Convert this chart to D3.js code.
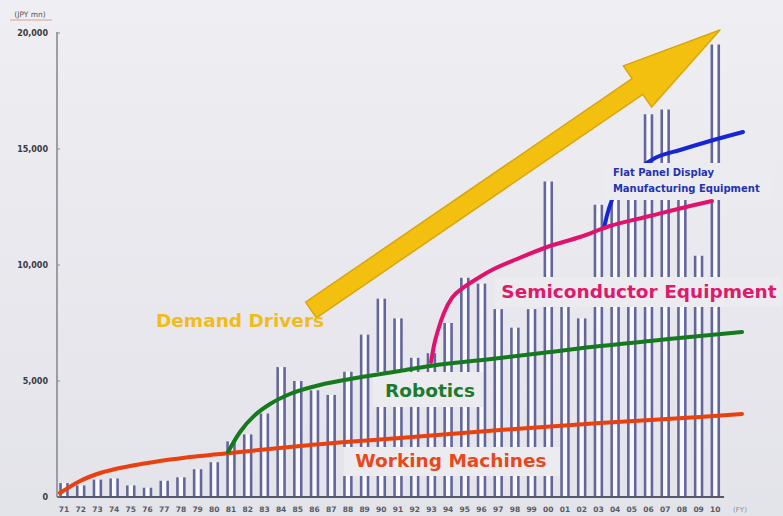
<!DOCTYPE html>
<html>
<head>
<meta charset="utf-8">
<script src="https://cdn.jsdelivr.net/npm/d3@7"></script>
<style>
  html, body { margin: 0; padding: 0; background: #e9e9ee; }
  svg { display: block; }
</style>
</head>
<body>
<svg id="chart" width="783" height="516"></svg>
<script>
// orders per fiscal year (JPY mn)
const years = [1971, 1972, 1973, 1974, 1975, 1976, 1977, 1978, 1979, 1980,
  1981, 1982, 1983, 1984, 1985, 1986, 1987, 1988, 1989, 1990,
  1991, 1992, 1993, 1994, 1995, 1996, 1997, 1998, 1999, 2000,
  2001, 2002, 2003, 2004, 2005, 2006, 2007, 2008, 2009, 2010];
const yearLabels = ["71", "72", "73", "74", "75", "76", "77", "78", "79", "80",
  "81", "82", "83", "84", "85", "86", "87", "88", "89", "90",
  "91", "92", "93", "94", "95", "96", "97", "98", "99", "00",
  "01", "02", "03", "04", "05", "06", "07", "08", "09", "10"];
const orders = [600, 500, 750, 800, 500, 400, 700, 850, 1200, 1500,
  2400, 2700, 3600, 5600, 5000, 4600, 4400, 5400, 7000, 8550,
  7700, 6000, 6200, 7500, 9450, 9200, 8100, 7300, 8100, 13600,
  8800, 7700, 12600, 13800, 14200, 16500, 16700, 13000, 10400, 19500];
const yTicks = [0, 5000, 10000, 15000, 20000];

// demand driver trend lines: [fiscal year, JPY mn]
const workingMachines = [[1970.76, 172], [1971.96, 690], [1973.16, 1034], [1974.95, 1336],
  [1976.75, 1552], [1979.14, 1767], [1980.94, 1897], [1985.13, 2198], [1991.12, 2543],
  [1997.11, 2888], [2003.10, 3190], [2009.08, 3448], [2011.60, 3578]];
const robotics = [[1980.82, 1940], [1981.54, 2802], [1982.44, 3534], [1983.34, 4009],
  [1984.53, 4440], [1986.33, 4828], [1988.13, 5086], [1991.12, 5431], [1992.92, 5647],
  [1997.11, 5991], [2000.10, 6250], [2003.10, 6509], [2006.09, 6724], [2009.08, 6940],
  [2011.60, 7112]];
const semiconductor = [[1992.98, 5819], [1993.16, 6552], [1993.40, 7198], [1993.75, 7931],
  [1994.23, 8578], [1994.89, 9009], [1995.61, 9353], [1996.51, 9741], [1998.13, 10259],
  [2000.10, 10819], [2001.90, 11207], [2003.69, 11681], [2006.09, 12112], [2008.49, 12543],
  [2009.80, 12759]];
const flatPanel = [[2003.34, 11595], [2003.52, 12155], [2003.81, 12802], [2004.59, 13578],
  [2005.49, 14181], [2006.39, 14612], [2007.89, 14957], [2009.68, 15345], [2011.66, 15733]];

// arrow from tail to tip, [fiscal year, JPY mn]
const demandArrow = [[1985.79, 8060], [2010.28, 20130]];

const width = 783;
const height = 516;

const svg = d3.select("#chart");

const defs = svg.append("defs");
const bg = defs.append("linearGradient")
  .attr("id", "bg")
  .attr("x1", 0).attr("y1", 0).attr("x2", 0).attr("y2", 1);
bg.append("stop").attr("offset", "0%").attr("stop-color", "#efeef2");
bg.append("stop").attr("offset", "100%").attr("stop-color", "#e3e3ea");

svg.append("rect")
  .attr("width", width)
  .attr("height", height)
  .attr("fill", "url(#bg)");

const x = d3
  .scaleBand()
  .domain(years)
  .range([55.65, 723.65])
  .paddingInner(0.43)
  .paddingOuter(0.215);

const xs = d3
  .scaleLinear()
  .domain([1971, 2010])
  .range([x(1971) + x.bandwidth() / 2, x(2010) + x.bandwidth() / 2]);

const y = d3.scaleLinear().domain([0, 20000]).range([497, 33]);

// bars: white body with dark edges
const bars = svg
  .append("g")
  .selectAll("g")
  .data(years)
  .enter()
  .append("g");

bars
  .append("rect")
  .attr("x", (d) => x(d))
  .attr("y", (d, i) => y(orders[i]))
  .attr("width", x.bandwidth())
  .attr("height", (d, i) => y(0) - y(orders[i]))
  .attr("fill", "#f8f8fd");

bars
  .selectAll("line")
  .data((d, i) => [
    { x: x(d) + 1.3, v: orders[i] },
    { x: x(d) + x.bandwidth() - 1.3, v: orders[i] },
  ])
  .enter()
  .append("line")
  .attr("x1", (d) => d.x)
  .attr("x2", (d) => d.x)
  .attr("y1", (d) => y(d.v))
  .attr("y2", y(0))
  .attr("stroke", "#62669a")
  .attr("stroke-width", 2.6);

const line = d3
  .line()
  .curve(d3.curveMonotoneX)
  .x((d) => xs(d[0]))
  .y((d) => y(d[1]));

// flat panel line goes under its label box
svg
  .append("path")
  .datum(flatPanel)
  .attr("d", line)
  .attr("fill", "none")
  .attr("stroke", "#1427d2")
  .attr("stroke-width", 4)
  .attr("stroke-linecap", "round");

// label boxes hiding the bars
const boxes = [
  { x0: 1989.5, x1: 1996.09, v0: 3879, v1: 5388 },
  { x0: 1987.71, x1: 2000.7, v0: 905, v1: 2155 },
  { x0: 1996.81, x1: 2013.99, v0: 8190, v1: 9483 },
  { x0: 2003.34, x1: 2013.4, v0: 12802, v1: 14397 },
];

svg
  .append("g")
  .selectAll("rect")
  .data(boxes)
  .enter()
  .append("rect")
  .attr("x", (d) => xs(d.x0))
  .attr("y", (d) => y(d.v1))
  .attr("width", (d) => xs(d.x1) - xs(d.x0))
  .attr("height", (d) => y(d.v0) - y(d.v1))
  .attr("fill", "#ececf0");

// axes
svg
  .append("line")
  .attr("x1", 57)
  .attr("x2", 57)
  .attr("y1", y(20000) - 1)
  .attr("y2", y(0))
  .attr("stroke", "#8a8a92")
  .attr("stroke-width", 1.6);

svg
  .append("line")
  .attr("x1", 57)
  .attr("x2", x(2010) + x.bandwidth() + 4)
  .attr("y1", y(0))
  .attr("y2", y(0))
  .attr("stroke", "#55596e")
  .attr("stroke-width", 2);

const yAxis = svg.append("g").attr("class", "yaxis");

yAxis
  .selectAll("line")
  .data(yTicks)
  .enter()
  .append("line")
  .attr("x1", 57)
  .attr("x2", 60)
  .attr("y1", (d) => y(d))
  .attr("y2", (d) => y(d))
  .attr("stroke", "#8a8a92")
  .attr("stroke-width", 1);

yAxis
  .selectAll("text")
  .data(yTicks)
  .enter()
  .append("text")
  .attr("x", 48)
  .attr("y", (d) => y(d) + 3)
  .attr("text-anchor", "end")
  .attr("font-family", "DejaVu Sans")
  .attr("font-size", 8)
  .attr("font-weight", "bold")
  .attr("fill", "#3a3a40")
  .text((d) => d3.format(",")(d));

svg
  .append("text")
  .attr("x", 30)
  .attr("y", 17)
  .attr("text-anchor", "middle")
  .attr("font-family", "DejaVu Sans")
  .attr("font-size", 7.5)
  .attr("fill", "#55555c")
  .text("(JPY mn)");

svg
  .append("line")
  .attr("x1", 10)
  .attr("x2", 52)
  .attr("y1", 20)
  .attr("y2", 20)
  .attr("stroke", "#e39a9a")
  .attr("stroke-width", 1);

svg
  .append("g")
  .selectAll("text")
  .data(years)
  .enter()
  .append("text")
  .attr("x", (d) => x(d) + x.bandwidth() / 2)
  .attr("y", 512)
  .attr("text-anchor", "middle")
  .attr("font-family", "DejaVu Sans")
  .attr("font-size", 7.5)
  .attr("font-weight", "bold")
  .attr("fill", "#5a5a62")
  .text((d, i) => yearLabels[i]);

svg
  .append("text")
  .attr("x", 740)
  .attr("y", 512)
  .attr("text-anchor", "middle")
  .attr("font-family", "DejaVu Sans")
  .attr("font-size", 7)
  .attr("fill", "#8a8a92")
  .text("(FY)");

// trend lines
const trends = [
  { data: workingMachines, color: "#e8400f" },
  { data: robotics, color: "#157a1e" },
  { data: semiconductor, color: "#e0126c" },
];

trends.forEach((t) => {
  svg
    .append("path")
    .datum(t.data)
    .attr("d", line)
    .attr("fill", "none")
    .attr("stroke", t.color)
    .attr("stroke-width", 4)
    .attr("stroke-linecap", "round");
});

// demand arrow
const tail = [xs(demandArrow[0][0]), y(demandArrow[0][1])];
const tip = [xs(demandArrow[1][0]), y(demandArrow[1][1])];
const len = Math.hypot(tip[0] - tail[0], tip[1] - tail[1]);
const ux = (tip[0] - tail[0]) / len;
const uy = (tip[1] - tail[1]) / len;
const nx = -uy;
const ny = ux;
const shaftW = 9.5;
const headW = 25;
const headL = 100;
const base = [tip[0] - ux * headL, tip[1] - uy * headL];
const arrowPts = [
  [tail[0] + nx * shaftW, tail[1] + ny * shaftW],
  [base[0] + nx * shaftW, base[1] + ny * shaftW],
  [base[0] + nx * headW, base[1] + ny * headW],
  tip,
  [base[0] - nx * headW, base[1] - ny * headW],
  [base[0] - nx * shaftW, base[1] - ny * shaftW],
  [tail[0] - nx * shaftW, tail[1] - ny * shaftW],
];

svg
  .append("path")
  .attr("d", "M" + arrowPts.map((p) => p.join(",")).join("L") + "Z")
  .attr("fill", "#f4c010")
  .attr("stroke", "#d9a60a")
  .attr("stroke-width", 1.5)
  .attr("stroke-linejoin", "round");

// labels
const labels = [
  { text: "Demand Drivers", year: 1981.54, value: 7328, color: "#f0bc1c" },
  { text: "Robotics", year: 1992.92, value: 4310, color: "#1e7a2c" },
  { text: "Working Machines", year: 1994.17, value: 1293, color: "#e8481c" },
  { text: "Semiconductor Equipment", year: 2005.43, value: 8578, color: "#df1a6c" },
];

svg
  .append("g")
  .selectAll("text")
  .data(labels)
  .enter()
  .append("text")
  .attr("x", (d) => xs(d.year))
  .attr("y", (d) => y(d.value))
  .attr("text-anchor", "middle")
  .attr("font-family", "DejaVu Sans")
  .attr("font-size", 18.5)
  .attr("font-weight", "bold")
  .attr("fill", (d) => d.color)
  .text((d) => d.text);

const fpd = svg
  .append("text")
  .attr("font-family", "DejaVu Sans")
  .attr("font-size", 10)
  .attr("font-weight", "bold")
  .attr("fill", "#2433b0");

fpd.append("tspan").attr("x", xs(2003.87)).attr("y", y(13836)).text("Flat Panel Display");
fpd.append("tspan").attr("x", xs(2003.87)).attr("y", y(13147)).text("Manufacturing Equipment");
</script>
</body>
</html>
